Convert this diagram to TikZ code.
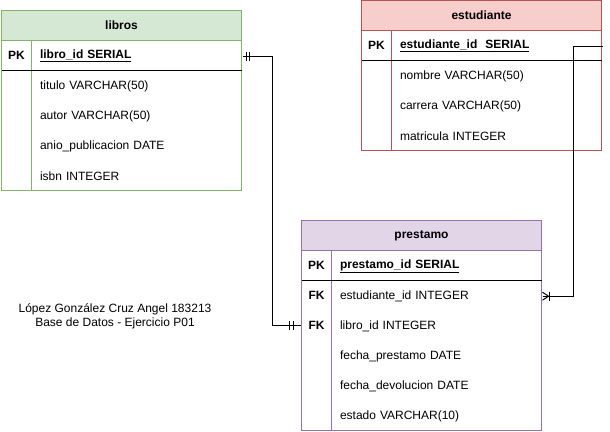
\documentclass[tikz,border=0pt]{standalone}
\usepackage{fontspec}
\setmainfont{Liberation Sans}
\usetikzlibrary{positioning,calc}
\definecolor{libfill}{HTML}{D5E8D4}
\definecolor{libline}{HTML}{82B366}
\definecolor{estfill}{HTML}{F8CECC}
\definecolor{estline}{HTML}{B85450}
\definecolor{prefill}{HTML}{E1D5E7}
\definecolor{preline}{HTML}{9673A6}
\tikzset{
  title/.style={font=\fontsize{12}{14}\selectfont\bfseries},
  key/.style={font=\fontsize{12}{14}\selectfont\bfseries, minimum width=30pt, minimum height=30pt, inner sep=0pt},
  field/.style={anchor=west, text width=194pt, inner xsep=8pt, inner ysep=0pt, minimum height=30pt, align=left, yshift=-0.7pt},
  pkfield/.style={field, font=\fontsize{12}{14}\selectfont\bfseries},
  rel/.style={line width=1pt, black}
}

\begin{document}
\begin{tikzpicture}[x=1pt, y=-1pt, line width=1pt, font=\fontsize{12}{14}\selectfont]
\useasboundingbox (0,0) rectangle (610,431);

% libros
\draw[libline, fill=libfill] (1.5,10.5) rectangle (241.5,40.5);
\draw[libline, fill=white] (1.5,40.5) rectangle (241.5,190.5);
\draw[libline] (31.5,40.5) -- (31.5,190.5);
\draw (1.5,70.5) -- (241.5,70.5);
\node[title] (lb-title) at (121.5,25.5) {libros};
\node[key] (lb-k0) at (16.5,55.5) {PK};
\node[pkfield] (lb-pk) at (31.5,55.5) {\underline{libro\_id SERIAL}};
\foreach \t [count=\i] in {titulo VARCHAR(50), autor VARCHAR(50), anio\_publicacion DATE, isbn INTEGER}
  \node[field] (lb-f\i) at (31.5,55.5+30*\i) {\t};

% estudiante
\draw[estline, fill=estfill] (361.5,0.5) rectangle (601.5,30.5);
\draw[estline, fill=white] (361.5,30.5) rectangle (601.5,150.5);
\draw[estline] (391.5,30.5) -- (391.5,150.5);
\draw (361.5,60.5) -- (601.5,60.5);
\node[title] (es-title) at (481.5,15.5) {estudiante};
\node[key] (es-k0) at (376.5,45.5) {PK};
\node[pkfield] (es-pk) at (391.5,45.5) {\underline{estudiante\_id\ \ SERIAL}};
\foreach \t [count=\i] in {nombre VARCHAR(50), carrera VARCHAR(50), matricula INTEGER}
  \node[field] (es-f\i) at (391.5,45.5+30*\i) {\t};

% prestamo
\draw[preline, fill=prefill] (301.5,220.5) rectangle (541.5,250.5);
\draw[preline, fill=white] (301.5,250.5) rectangle (541.5,430.5);
\draw[preline] (331.5,250.5) -- (331.5,430.5);
\draw (301.5,280.5) -- (541.5,280.5);
\node[title] (pr-title) at (421.5,235.5) {prestamo};
\node[key] (pr-k0) at (316.5,265.5) {PK};
\node[pkfield] (pr-pk) at (331.5,265.5) {\underline{prestamo\_id SERIAL}};
\node[key] (pr-k1) at (316.5,295.5) {FK};
\node[key] (pr-k2) at (316.5,325.5) {FK};
\foreach \t [count=\i] in {estudiante\_id INTEGER, libro\_id INTEGER, fecha\_prestamo DATE, fecha\_devolucion DATE, estado VARCHAR(10)}
  \node[field] (pr-f\i) at (331.5,265.5+30*\i) {\t};

% relaciones
\draw[rel] (lb-pk.east) -- ++(30,0) |- (pr-k2.west);
\draw[rel] ([xshift=4]lb-pk.east) ++(0,-4.5) -- ++(0,9);
\draw[rel] ([xshift=7]lb-pk.east) ++(0,-4.5) -- ++(0,9);
\draw[rel] ([xshift=-8]pr-k2.west) ++(0,-4.5) -- ++(0,9);
\draw[rel] ([xshift=-12]pr-k2.west) ++(0,-4.5) -- ++(0,9);

\draw[rel] (es-pk.east) -- ++(-29,0) |- (pr-f1.east);
\draw[rel] ([yshift=-4]pr-f1.east) -- ([xshift=6]pr-f1.east) -- ([yshift=4]pr-f1.east);
\draw[rel] ([xshift=7]pr-f1.east) ++(0,-4.5) -- ++(0,9);

% autor
\node[align=center] (autor) at (115,316.5) {López González Cruz Angel 183213\\Base de Datos - Ejercicio P01};
\end{tikzpicture}
\end{document}
